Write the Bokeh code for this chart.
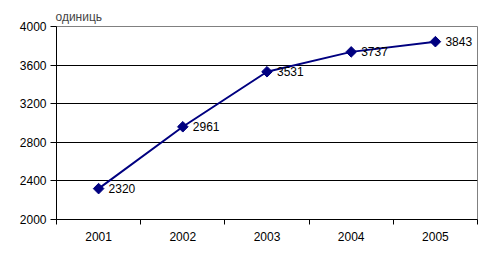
import math
from bokeh.plotting import figure
from bokeh.models import LinearAxis, FixedTicker, ColumnDataSource, Range1d
from bokeh.core.properties import value
from bokeh.embed import file_html
from bokeh.resources import INLINE

years = ["2001", "2002", "2003", "2004", "2005"]
values = [2320, 2961, 3531, 3737, 3843]
y_ticks = [2000, 2400, 2800, 3200, 3600, 4000]
unit_label = "одиниць"

xs = list(range(1, len(years) + 1))
src = ColumnDataSource(dict(x=xs, y=values, lbl=[str(v) for v in values]))

FONT = "Liberation Sans"

p = figure(width=493, height=266, output_backend="svg", toolbar_location=None,
           x_range=Range1d(0.5, len(years) + 0.5), y_range=Range1d(2000, 4000),
           x_axis_location=None, y_axis_location=None,
           min_border_left=56, min_border_right=16, min_border_top=26, min_border_bottom=47)
p.background_fill_color = "white"
p.border_fill_color = "white"
p.outline_line_color = "#808080"
p.outline_line_width = 1

p.title.text = unit_label
p.title.text_font = FONT
p.title.text_font_size = "12px"
p.title.text_font_style = "normal"
p.title.align = "left"
p.title.standoff = 5
p.title.offset = -1

# y axis
yax = LinearAxis(ticker=FixedTicker(ticks=y_ticks))
yax.major_label_text_font = FONT
yax.major_label_text_font_size = "12px"
yax.major_label_text_color = "black"
yax.major_tick_out = 6
yax.major_tick_in = 0
yax.minor_tick_out = 0
yax.minor_tick_in = 0
yax.axis_line_color = "black"
yax.major_label_standoff = 4
p.add_layout(yax, "left")

# x axis with ticks at boundaries
bounds = [i + 0.5 for i in range(0, len(years) + 1)]
xax = LinearAxis(ticker=FixedTicker(ticks=bounds))
xax.major_label_overrides = {b: "" for b in bounds}
xax.major_tick_out = 5
xax.major_tick_in = 0
xax.minor_tick_out = 0
xax.minor_tick_in = 0
xax.axis_line_color = "black"
xax.major_label_text_font_size = "1px"
p.add_layout(xax, "below")

# category labels
xlab = LinearAxis(ticker=FixedTicker(ticks=xs))
xlab.major_label_overrides = {i: y for i, y in zip(xs, years)}
xlab.major_label_text_font = FONT
xlab.major_label_text_font_size = "12px"
xlab.major_label_text_color = "black"
xlab.axis_line_color = None
xlab.major_tick_out = 0
xlab.major_tick_in = 0
xlab.minor_tick_out = 0
xlab.minor_tick_in = 0
xlab.major_label_standoff = 7
p.add_layout(xlab, "below")

p.xgrid.visible = False
p.ygrid.ticker = FixedTicker(ticks=y_ticks)
p.ygrid.grid_line_color = "black"
p.ygrid.grid_line_width = 1

p.line("x", "y", source=src, line_color="#000080", line_width=2)
p.scatter("x", "y", source=src, marker="square", angle=math.pi / 4, size=7.5,
          fill_color="#000080", line_color="#000080")
p.text("x", "y", text="lbl", source=src, x_offset=10, text_baseline="middle",
       text_font=value(FONT), text_font_size="12px", text_color="black")

open("out.html", "w").write(file_html(p, INLINE))
